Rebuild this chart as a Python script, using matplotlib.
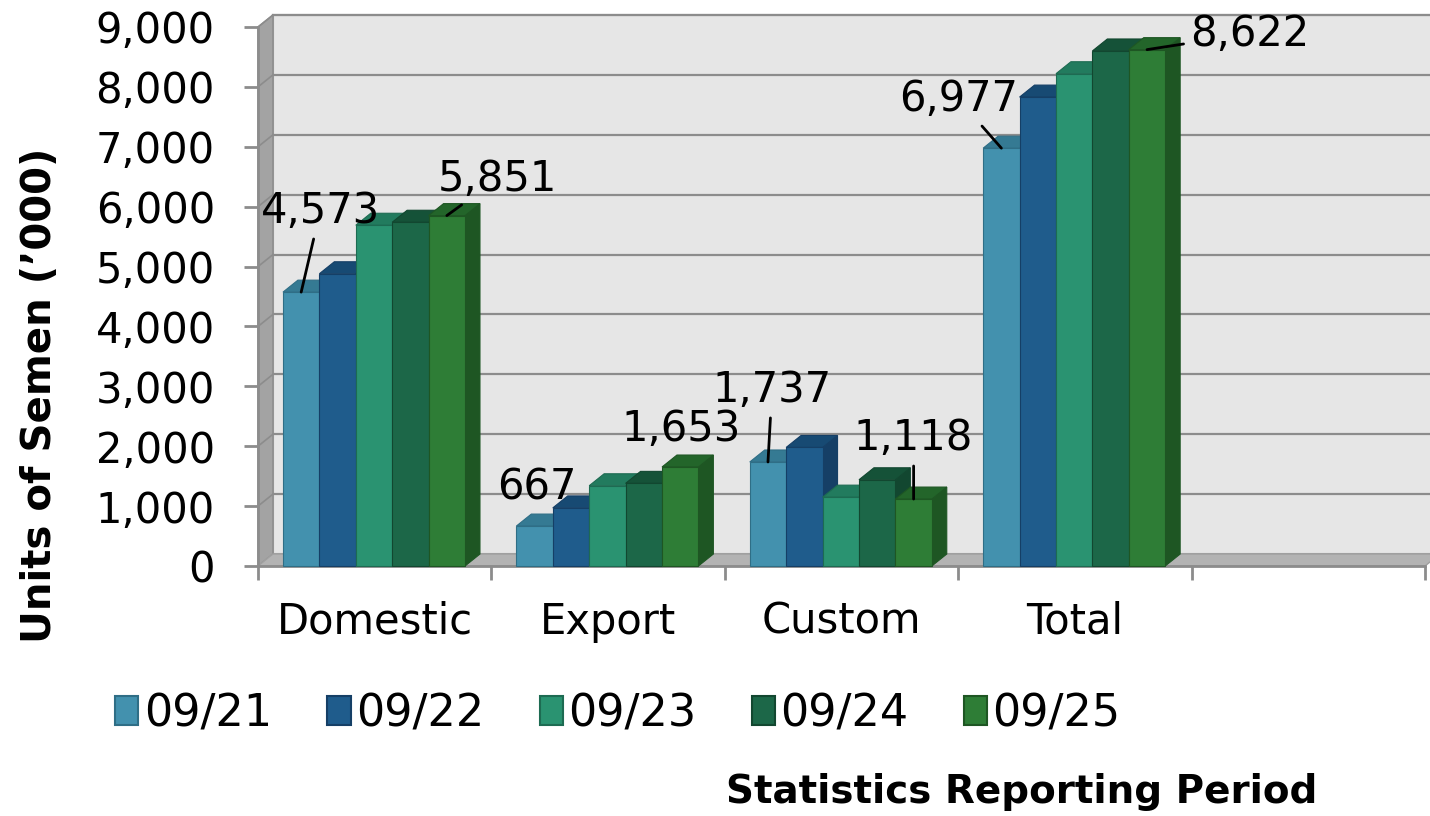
import matplotlib
matplotlib.use('Agg')
import matplotlib.pyplot as plt
from matplotlib.patches import Polygon, Rectangle

categories = ['Domestic', 'Export', 'Custom', 'Total', '']
periods = ['09/21', '09/22', '09/23', '09/24', '09/25']

# units of semen ('000), order: Domestic, Export, Custom, Total
s0921 = [4573, 667, 1737, 6977]
s0922 = [4880, 970, 1980, 7830]
s0923 = [5690, 1340, 1150, 8220]
s0924 = [5740, 1380, 1440, 8600]
s0925 = [5851, 1653, 1118, 8622]
series = [s0921, s0922, s0923, s0924, s0925]

yticks = [0, 1000, 2000, 3000, 4000, 5000, 6000, 7000, 8000, 9000]

# face colours: front, top, side
fronts = ['#4391ae', '#1f5c8c', '#2a9371', '#1c6748', '#2e7d36']
tops = ['#357a93', '#174a73', '#227b5e', '#155238', '#23652a']
sides = ['#2f6e86', '#153f66', '#1d6b52', '#124730', '#1e5623']

DX, DY = 0.064, 200          # depth offset of the 3d look
GROUP_L, BAR_W = 0.107, 0.156
FS = 30

plt.rcParams['font.family'] = 'DejaVu Sans'

fig = plt.figure(figsize=(14.3, 8.16), dpi=100)
ax = fig.add_axes([258 / 1430, 1 - 566 / 816, 1167 / 1430, 539 / 816])
ax.set_xlim(0, 5)
ax.set_ylim(0, 9000)
ax.set_facecolor('none')

# walls and floor
ax.add_patch(Polygon([(DX, DY), (5 + DX, DY), (5 + DX, 9000 + DY), (DX, 9000 + DY)],
                     fc='#e6e6e6', ec='#a0a0a0', lw=1.5, zorder=0, clip_on=False))
ax.add_patch(Polygon([(0, 0), (DX, DY), (DX, 9000 + DY), (0, 9000)],
                     fc='#a3a3a3', ec='#8c8c8c', lw=1, zorder=1, clip_on=False))
ax.add_patch(Polygon([(0, 0), (5, 0), (5 + DX, DY), (DX, DY)],
                     fc='#b3b3b3', ec='#a0a0a0', lw=1, zorder=1, clip_on=False))
for t in yticks[1:]:
    ax.plot([DX, 5 + DX], [t + DY, t + DY], color='#8c8c8c', lw=1.6, zorder=0.5, clip_on=False)
    ax.plot([0, DX], [t, t + DY], color='#8c8c8c', lw=1.2, zorder=1.5, clip_on=False)


def bar3d(x, h, j, z):
    ec = sides[j]
    ax.add_patch(Polygon([(x + BAR_W, 0), (x + BAR_W + DX, DY), (x + BAR_W + DX, h + DY), (x + BAR_W, h)],
                         fc=sides[j], ec=ec, lw=0.8, zorder=z, clip_on=False))
    ax.add_patch(Polygon([(x, h), (x + BAR_W, h), (x + BAR_W + DX, h + DY), (x + DX, h + DY)],
                         fc=tops[j], ec=ec, lw=0.8, zorder=z, clip_on=False))
    ax.add_patch(Rectangle((x, 0), BAR_W, h, fc=fronts[j], ec=ec, lw=0.8, zorder=z, clip_on=False))


z = 2
for i in range(4):
    for j, s in enumerate(series):
        bar3d(i + GROUP_L + j * BAR_W, s[i], j, z)
        z += 0.1

# data labels (only first and last period), offsets in pixels from bar top
label_offsets = {(0, 0): (19, 81, True), (0, 4): (51, 37, True),
                 (1, 0): (2, 39, False), (1, 4): (1, 38, False),
                 (2, 0): (4, 72, True), (2, 4): (0, 61, True),
                 (3, 0): (-43, 49, True), (3, 4): (103, 16, True)}
for (i, j), (ox, oy, lead) in label_offsets.items():
    v = series[j][i]
    xc = i + GROUP_L + j * BAR_W + BAR_W / 2
    props = dict(arrowstyle='-', color='black', lw=2, shrinkA=3, shrinkB=0) if lead else None
    ax.annotate(f'{v:,}', xy=(xc, v), xytext=(ox, oy), textcoords='offset pixels',
                ha='center', va='center', fontsize=FS, arrowprops=props, zorder=10,
                annotation_clip=False)

# axes
for sp in ['top', 'right']:
    ax.spines[sp].set_visible(False)
for sp in ['left', 'bottom']:
    ax.spines[sp].set_color('#8c8c8c')
    ax.spines[sp].set_linewidth(2)
    ax.spines[sp].set_zorder(1.6)
ax.set_yticks(yticks)
ax.set_yticklabels([f'{t:,}' for t in yticks], fontsize=FS)
ax.tick_params(axis='y', length=10, width=2, color='#8c8c8c', pad=21)
ax.set_xticks(range(6))
ax.set_xticklabels([])
ax.tick_params(axis='x', which='major', length=10, width=2, color='#8c8c8c')
ax.set_xticks([i + 0.5 for i in range(5)], minor=True)
ax.set_xticklabels(categories, minor=True, fontsize=FS)
ax.tick_params(axis='x', which='minor', length=0, pad=25)

handles = [Rectangle((0, 0), 1, 1, fc=fronts[j], ec=sides[j], lw=1.5) for j in range(5)]
fig.legend(handles, periods, loc='center', bbox_to_anchor=(618 / 1430, 1 - 714 / 816),
           ncol=5, frameon=False, fontsize=32, handlelength=0.52, handleheight=0.63,
           handletextpad=0.12, columnspacing=1.25, borderpad=0)

fig.text(40 / 1430, 1 - 395 / 816, 'Units of Semen (\u2019000)', rotation=90,
         fontsize=29, fontweight='bold', ha='center', va='center')
fig.text(1022 / 1430, 1 - 792 / 816, 'Statistics Reporting Period',
         fontsize=28, fontweight='bold', ha='center', va='center')

fig.savefig('out.png', dpi=100)
